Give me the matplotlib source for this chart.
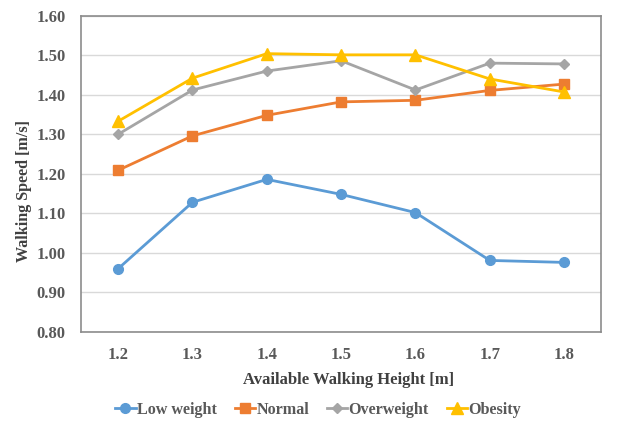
import matplotlib
matplotlib.use("Agg")
import matplotlib.pyplot as plt

heights = ["1.2", "1.3", "1.4", "1.5", "1.6", "1.7", "1.8"]
low_weight = [0.960, 1.128, 1.186, 1.148, 1.102, 0.981, 0.976]
normal = [1.209, 1.296, 1.348, 1.382, 1.386, 1.411, 1.427]
overweight = [1.300, 1.412, 1.460, 1.486, 1.412, 1.480, 1.478]
obesity = [1.333, 1.442, 1.504, 1.501, 1.501, 1.440, 1.407]
y_ticks = [0.80, 0.90, 1.00, 1.10, 1.20, 1.30, 1.40, 1.50, 1.60]

plt.rcParams['font.family'] = ['Liberation Serif', 'DejaVu Serif']
plt.rcParams['font.weight'] = 'bold'

fig = plt.figure(figsize=(6.18, 4.24), dpi=100)
ax = fig.add_axes([0.131, 0.217, 0.842, 0.746])

x = list(range(len(heights)))
series = [
    ("Low weight", low_weight, "#5B9BD5", "o", 7),
    ("Normal", normal, "#ED7D31", "s", 7),
    ("Overweight", overweight, "#A5A5A5", "D", 5),
    ("Obesity", obesity, "#FFC000", "^", 8),
]
for name, vals, col, mk, ms in series:
    ax.plot(x, vals, color=col, marker=mk, markersize=ms, linewidth=2, label=name)

ax.set_xlim(-0.5, len(heights) - 0.5)
ax.set_ylim(0.80, 1.60)
ax.set_xticks(x)
ax.set_xticklabels(heights)
ax.set_yticks(y_ticks)
ax.set_yticklabels([f"{v:.2f}" for v in y_ticks])
ax.tick_params(axis='both', length=0, labelsize=12, labelcolor='#595959')
ax.tick_params(axis='x', pad=11)
ax.tick_params(axis='y', pad=11)
ax.grid(axis='y', color='#d9d9d9', linewidth=1)
ax.set_axisbelow(True)
for s in ax.spines.values():
    s.set_color('#8c8c8c')
    s.set_linewidth(1.2)

ax.set_xlabel("Available Walking Height [m]", fontsize=12, fontweight='bold', color='#404040')
ax.xaxis.set_label_coords(0.514, -0.125)
ax.set_ylabel("Walking Speed [m/s]", fontsize=11.6, fontweight='bold', color='#404040')
ax.yaxis.set_label_coords(-0.094, 0.445)

handles, labels = ax.get_legend_handles_labels()
fig.legend(handles, labels, loc='center', bbox_to_anchor=(0.515, 0.033), ncol=4, frameon=False,
           fontsize=11.6, handlelength=1.25, handletextpad=0.1, columnspacing=1.1,
           labelcolor='#595959')

fig.savefig("out.png", dpi=100)
